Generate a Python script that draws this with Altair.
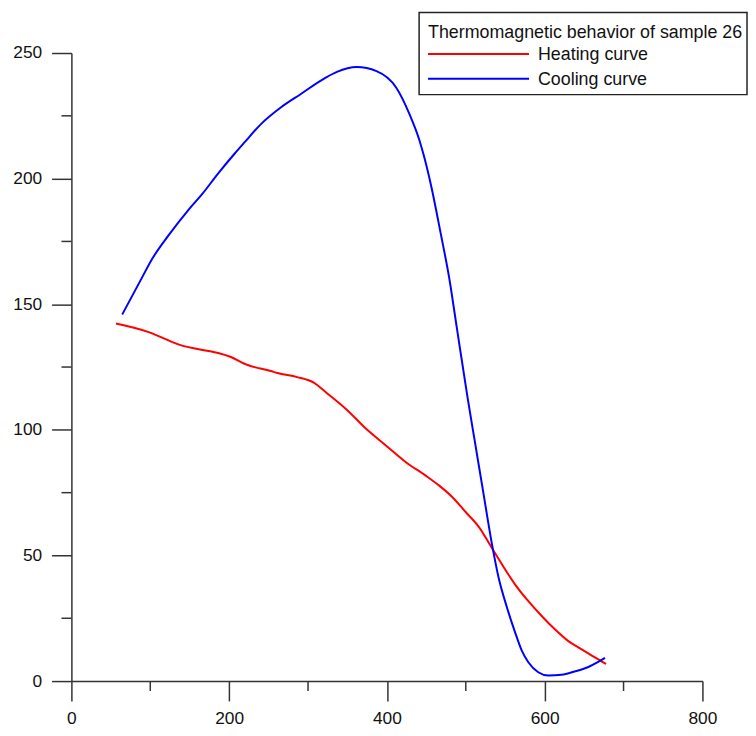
import altair as alt
import pandas as pd

# ---- data ----
heat_T = [56.5, 98, 135.6, 202.2, 223.5, 252.8, 261.2, 286.3, 307.7, 324, 349.1,
          374.3, 399.4, 424.5, 449.6, 466.3, 483.1, 499.8, 516.5, 533.4, 554.2,
          562.6, 579.3, 596.2, 612.9, 629.6, 646.4, 663.1, 677.8]
heat_M = [142.3, 138.9, 134, 129, 125.8, 123.4, 122.6, 121, 118.7, 114.6, 108,
          100.2, 93.6, 87, 81.7, 77.8, 73.2, 67.3, 61.4, 52.8, 42.3,
          38.4, 31.8, 25.9, 20.6, 16, 12.7, 9.5, 6.8]

cool_T = [64.4, 89.5, 102.1, 123.1, 148.2, 164.9, 185.9, 206.8, 219.4, 240.3,
          265.4, 290.5, 321.9, 336.6, 361.7, 386.8, 411.9, 428.6, 441.2, 446.7,
          455.9, 468.5, 478.9, 488.5, 502, 512.4, 522.8, 533.4, 541.7, 552,
          562.6, 571, 579.3, 591.9, 604.5, 621.3, 638, 654.7, 667.3, 676.5]
cool_M = [145.9, 160.6, 167.9, 177.4, 187.5, 193.5, 202, 209.9, 214.4, 221.7,
          228.3, 233.6, 240.1, 242.5, 244.4, 242.8, 236.2, 225.7, 215.3, 209.3,
          197.4, 177.7, 160.6, 140.9, 113.3, 93.6, 73.9, 54.1, 41, 29.5,
          19.3, 12.1, 7.5, 3.5, 2.2, 2.5, 3.8, 5.5, 7.5, 9.2]

x_major = [0, 200, 400, 600, 800]
x_minor = [100, 300, 500, 700]
y_major = [0, 50, 100, 150, 200, 250]
y_minor = [25, 75, 125, 175, 225]

legend_title = "Thermomagnetic behavior of sample 26"
series_names = ["Heating curve", "Cooling curve"]
series_colors = ["#ff0000", "#0000ff"]

# ---- build table ----
rows = []
for i, (t, m) in enumerate(zip(heat_T, heat_M)):
    rows.append({"T": t, "M": m, "series": series_names[0], "i": i})
for i, (t, m) in enumerate(zip(cool_T, cool_M)):
    rows.append({"T": t, "M": m, "series": series_names[1], "i": i})
df = pd.DataFrame(rows)

W, H = 637, 634
FONT = "Liberation Sans"
AX = "#333333"
TXT = "#111111"

xs = alt.Scale(domain=[0, 800], nice=False, zero=False)
ys = alt.Scale(domain=[0, 250], nice=False, zero=False)

x_axis = alt.Axis(values=x_major, tickSize=20, tickWidth=1.5, tickColor=AX,
                  domainColor=AX, domainWidth=1.5, labelPadding=9,
                  labelFontSize=17.5, labelFont=FONT, labelColor=TXT,
                  labelFlush=False, labelOverlap=False, grid=False, title=None,
                  format="d")
y_axis = alt.Axis(values=y_major, tickSize=20, tickWidth=1.5, tickColor=AX,
                  domainColor=AX, domainWidth=1.5, labelPadding=10,
                  labelFontSize=17.5, labelFont=FONT, labelColor=TXT,
                  labelFlush=False, labelOverlap=False, grid=False, title=None,
                  format="d")

lines = alt.Chart(df).mark_line(strokeWidth=2, interpolate="monotone").encode(
    x=alt.X("T:Q", scale=xs, axis=x_axis),
    y=alt.Y("M:Q", scale=ys, axis=y_axis),
    color=alt.Color("series:N",
                    scale=alt.Scale(domain=series_names, range=series_colors),
                    legend=None),
    order="i:Q",
)

ymin = alt.Chart(pd.DataFrame({"v": y_minor})).mark_rule(
    color=AX, strokeWidth=1.5).encode(
    y=alt.Y("v:Q", scale=ys, axis=y_axis),
    x=alt.value(-10), x2=alt.value(0))

xmin = alt.Chart(pd.DataFrame({"v": x_minor})).mark_rule(
    color=AX, strokeWidth=1.5).encode(
    x=alt.X("v:Q", scale=xs, axis=x_axis),
    y=alt.value(H), y2=alt.value(H + 10))

one = pd.DataFrame({"a": [0]})

box = alt.Chart(one).mark_rect(fill="white", stroke="#222222",
                               strokeWidth=1.5).encode(
    x=alt.value(351), x2=alt.value(682), y=alt.value(-41), y2=alt.value(42))

title_txt = alt.Chart(one).mark_text(
    align="left", baseline="alphabetic", fontSize=18, font=FONT, color=TXT,
    text=legend_title).encode(x=alt.value(360), y=alt.value(-15))

leg_line1 = alt.Chart(one).mark_rule(color=series_colors[0], strokeWidth=2).encode(
    x=alt.value(360), x2=alt.value(462), y=alt.value(1))
leg_line2 = alt.Chart(one).mark_rule(color=series_colors[1], strokeWidth=2).encode(
    x=alt.value(360), x2=alt.value(462), y=alt.value(26))

leg_txt1 = alt.Chart(one).mark_text(
    align="left", baseline="alphabetic", fontSize=18, font=FONT, color=TXT,
    text=series_names[0]).encode(x=alt.value(471), y=alt.value(7.5))
leg_txt2 = alt.Chart(one).mark_text(
    align="left", baseline="alphabetic", fontSize=18, font=FONT, color=TXT,
    text=series_names[1]).encode(x=alt.value(471), y=alt.value(32))

chart = alt.layer(
    lines, ymin, xmin, box, title_txt, leg_line1, leg_line2, leg_txt1, leg_txt2
).properties(
    width=W, height=H,
    autosize=alt.AutoSizeParams(type="none"),
    padding={"left": 64, "top": 42, "right": 46, "bottom": 52},
    background="white",
).configure_view(stroke=None)

chart.save("out.html", embed_options={"renderer": "svg", "actions": False})
